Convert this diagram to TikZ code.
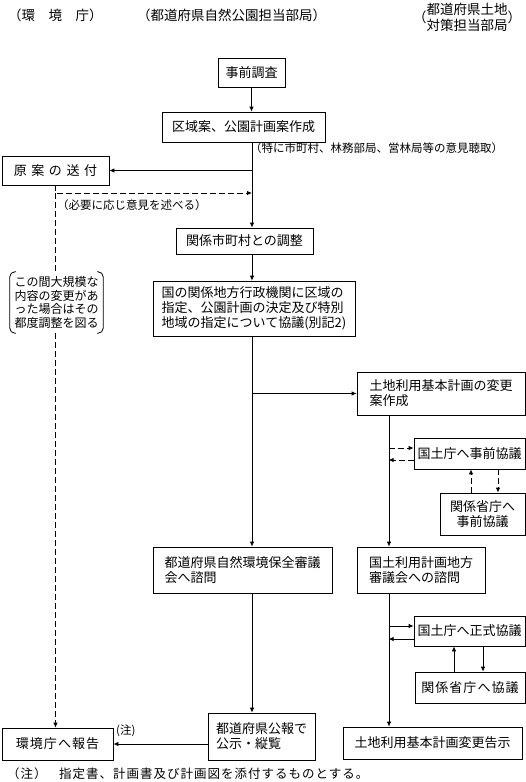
\documentclass[tikz,border=0pt]{standalone}
\usepackage{fontspec}
\setmainfont{Noto Sans CJK JP}
\usetikzlibrary{arrows.meta}

\begin{document}
\begin{tikzpicture}[x=1pt,y=-1pt,
  main/.style={draw, rectangle, line width=0.8pt, inner sep=2pt, align=left, font=\fontsize{13}{15}\selectfont},
  lbl/.style={inner sep=0pt, font=\fontsize{11.5}{13}\selectfont},
  head/.style={inner sep=0pt, font=\fontsize{13.5}{13.5}\selectfont},
  arr/.style={line width=0.8pt, -{Latex[length=5pt,width=4.5pt]}},
  dsh/.style={arr, dash pattern=on 6pt off 3pt}]
            \useasboundingbox (0,0) rectangle (526,782);

            % headings
            \node[head, anchor=west] (h0) at (8,15) {（環　境　庁）};
            \node[head, anchor=west] (h1) at (137,15) {（都道府県自然公園担当部局）};
            \node[head] (h2) at (467,19) {（\begin{tabular}{@{}c@{}}都道府県土地\\対策担当部局\end{tabular}）};

            % middle column
            \node[main, minimum width=67, minimum height=29] (0) at (251.5,72.5) {事前調査};
            \node[main, minimum width=163, minimum height=30] (1) at (243.5,127) {区域案、公園計画案作成};
            \node[main, minimum width=137, minimum height=26] (3) at (244.5,241) {関係市町村との調整};
            \node[main, minimum width=202, minimum height=55] (4) at (254,308.5) {国の関係地方行政機関に区域の\\指定、公園計画の決定及び特別\\地域の指定について協議(別記2)};
            \node[main, minimum width=179, minimum height=46] (8) at (242.5,570) {都道府県自然環境保全審議\\会へ諮問};
            \node[main, minimum width=107, minimum height=47] (12) at (261.5,736.5) {都道府県公報で\\公示・縦覧};

            % left column
            \node[main, minimum width=107, minimum height=29] (2) at (55.5,170.5) {原\hspace{.35em}案\hspace{.35em}の\hspace{.35em}送\hspace{.35em}付};
            \node[inner sep=0pt, align=left, font=\fontsize{12}{13.5}\selectfont, minimum width=93, minimum height=61] (15) at (56.5,302.5) {この間大規模な\\内容の変更があ\\った場合はその\\都度調整を図る};
            \node[main, minimum width=111, minimum height=32] (13) at (57.5,744) {\addfontfeature{LetterSpace=8}環境庁へ報告};

            % right column
            \node[main, minimum width=168, minimum height=43] (5) at (441,393.5) {土地利用基本計画の変更\\案作成};
            \node[main, minimum width=111, minimum height=31] (6) at (469.5,453.5) {国土庁へ事前協議};
            \node[main, minimum width=85, minimum height=42, align=center] (7) at (482.5,514) {関係省庁へ\\事前協議};
            \node[main, minimum width=128, minimum height=46] (9) at (421,570) {国土利用計画地方\\審議会への諮問};
            \node[main, minimum width=111, minimum height=30] (10) at (469.5,631) {国土庁へ正式協議};
            \node[main, minimum width=110, minimum height=31] (11) at (470,687.5) {\addfontfeature{LetterSpace=8}関係省庁へ協議};
            \node[main, minimum width=179, minimum height=32] (14) at (432.5,743) {土地利用基本計画変更告示};

            % labels
            \node[lbl, anchor=west] (l1) at (250,148) {（特に市町村、林務部局、営林局等の意見聴取）};
            \node[lbl, anchor=west] (l2) at (57,205) {（必要に応じ意見を述べる）};
            \node[lbl, anchor=west] (l3) at (116,731) {(注)};
            \node[inner sep=0pt, anchor=west, font=\fontsize{12.5}{13}\selectfont] (l4) at (7,774) {\addfontfeature{LetterSpace=8}（注）\hspace{1em}指定書、計画書及び計画図を添付するものとする。};

            \coordinate (m) at (252,0);
            \coordinate (r) at (389,0);
            \coordinate (c1) at (55.5,193);
            \coordinate (u1) at (471,0);
            \coordinate (u2) at (498,0);
            \coordinate (u3) at (454,0);
            \coordinate (u4) at (483,0);

            % main flow
            \path[arr] (0) edge (0 |- 1.north)
                       (m |- 1.south) edge (m |- 3.north)
                       (m |- 2.east) edge (2.east)
                       (m |- 3.south) edge (m |- 4.north)
                       (m |- 4.south) edge (m |- 8.north)
                       (m |- 5.west) edge (5.west)
                       (m |- 8.south) edge (m |- 12.north)
                       (12.west |- 13.east) edge (13.east)
                       (r |- 5.south) edge (r |- 9.north)
                       (r |- 9.south) edge (r |- 14.north);

            % dashed route on the left
            \draw[dsh] (2.south) -- (c1) -- (m |- c1);
            \draw[line width=0.8pt, dash pattern=on 6pt off 3pt] (c1) -- (c1 |- 15.north);
            \draw[dsh] (c1 |- 15.south) -- (c1 |- 13.north);
            \draw[line width=0.8pt, rounded corners=5pt] ([xshift=6pt]15.north west) -- (15.north west) -- (15.south west) -- ([xshift=6pt]15.south west);
            \draw[line width=0.8pt, rounded corners=5pt] ([xshift=-6pt]15.north east) -- (15.north east) -- (15.south east) -- ([xshift=-6pt]15.south east);

            % consultations
            \draw[dsh] ([yshift=5.5pt,xshift=-25pt]6.west) -- ([yshift=5.5pt]6.west);
            \draw[dsh] ([yshift=-6.5pt]6.west) -- ([yshift=-6.5pt,xshift=-25pt]6.west);
            \draw[dsh] (u1 |- 7.north) -- (u1 |- 6.south);
            \draw[dsh] (u2 |- 6.south) -- (u2 |- 7.north);
            \draw[arr] ([yshift=5pt,xshift=-25pt]10.west) -- ([yshift=5pt]10.west);
            \draw[arr] ([yshift=-8pt]10.west) -- ([yshift=-8pt,xshift=-25pt]10.west);
            \draw[arr] (u3 |- 11.north) -- (u3 |- 10.south);
            \draw[arr] (u4 |- 10.south) -- (u4 |- 11.north);
\end{tikzpicture}
\end{document}
